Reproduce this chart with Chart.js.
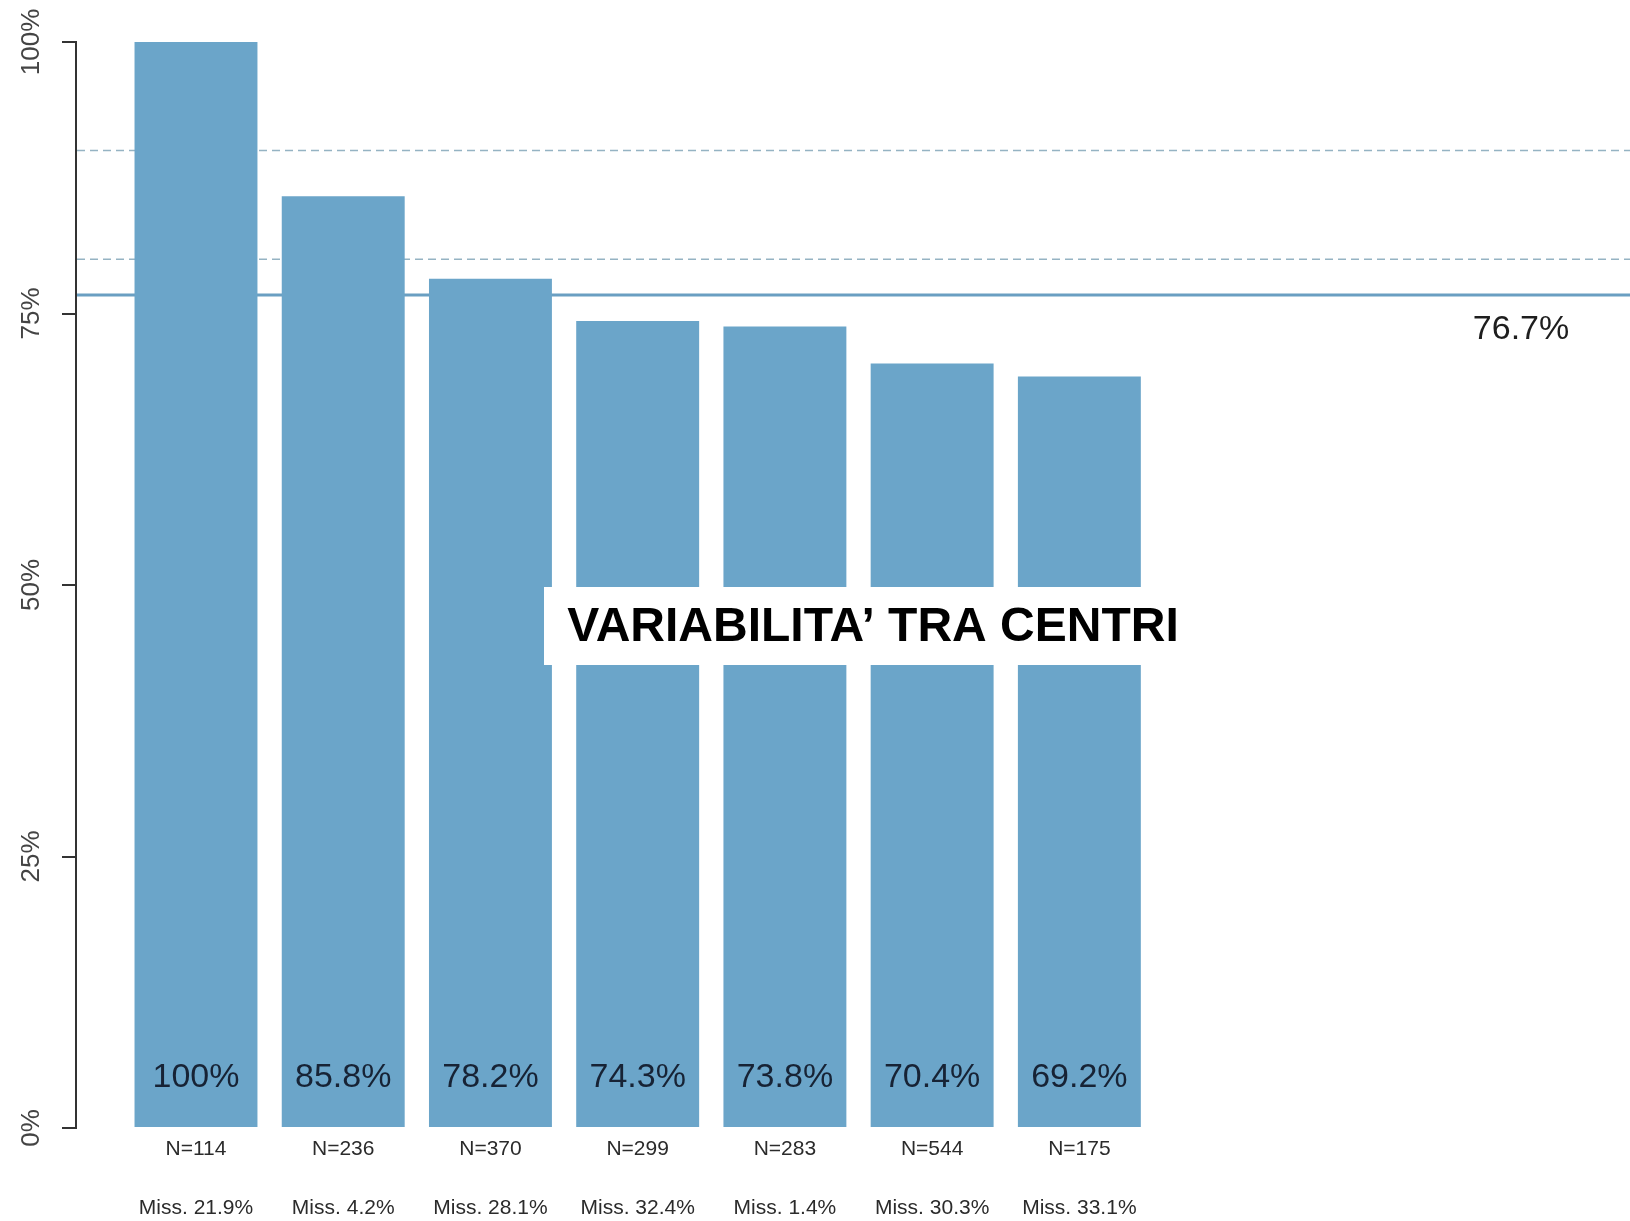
<!DOCTYPE html>
<html>
<head>
<meta charset="utf-8">
<script src="https://cdn.jsdelivr.net/npm/chart.js@4.4.1/dist/chart.umd.min.js"></script>
<style>
    html, body { margin: 0; padding: 0; background: #fff; overflow: hidden; }
    #wrap { width: 1630px; height: 1221px; position: relative; }
</style>
</head>
<body>
<div id="wrap"><canvas id="chart"></canvas></div>
<script>
// values
const pctValues = [100, 85.8, 78.2, 74.3, 73.8, 70.4, 69.2];
const sampleSizes = [114, 236, 370, 299, 283, 544, 175];
const missingPct = [21.9, 4.2, 28.1, 32.4, 1.4, 30.3, 33.1];
const meanPct = 76.7;
const refLines = [80, 90];
const yTicks = [0, 25, 50, 75, 100];
const yTickLabels = ["0%", "25%", "50%", "75%", "100%"];
const boxTitle = "VARIABILITA\u2019 TRA CENTRI";

const FONT = '"Liberation Sans", Arial, sans-serif';
const barColor = "#6ba5c9";
const positions = pctValues.map((v, i) => i + 1);

const overlay = {
    id: "overlay",
    beforeDatasetsDraw(chart) {
        const { ctx, chartArea, scales } = chart;
        const y = scales.y;
        ctx.save();
        ctx.strokeStyle = "#95b3c3";
        ctx.lineWidth = 1.5;
        ctx.setLineDash([8, 5]);
        refLines.forEach(v => {
            const py = y.getPixelForValue(v);
            ctx.beginPath();
            ctx.moveTo(chartArea.left + 1, py);
            ctx.lineTo(chartArea.right, py);
            ctx.stroke();
        });
        ctx.setLineDash([]);
        ctx.strokeStyle = "#6a9fc2";
        ctx.lineWidth = 3;
        const my = y.getPixelForValue(meanPct);
        ctx.beginPath();
        ctx.moveTo(chartArea.left + 1, my);
        ctx.lineTo(chartArea.right, my);
        ctx.stroke();
        ctx.restore();
    },
    afterDraw(chart) {
        const { ctx, scales } = chart;
        const x = scales.x;
        const y = scales.y;
        ctx.save();

        // rotated y tick labels
        ctx.fillStyle = "#444";
        ctx.font = "26px " + FONT;
        ctx.textAlign = "center";
        ctx.textBaseline = "middle";
        yTicks.forEach((v, i) => {
            ctx.save();
            ctx.translate(32, y.getPixelForValue(v));
            ctx.rotate(-Math.PI / 2);
            ctx.fillText(yTickLabels[i], 0, 0);
            ctx.restore();
        });

        // percentages at the foot of each bar
        const meta = chart.getDatasetMeta(0);
        ctx.fillStyle = "#172335";
        ctx.font = "34px " + FONT;
        meta.data.forEach((bar, i) => {
            ctx.fillText(pctValues[i] + "%", bar.x, y.getPixelForValue(0) - 50);
        });

        // mean label
        ctx.fillStyle = "#1e1e1e";
        ctx.font = "34px " + FONT;
        ctx.fillText(meanPct + "%", x.getPixelForValue(10), y.getPixelForValue(meanPct) + 35);

        // white title box over the bars
        ctx.fillStyle = "#fff";
        ctx.fillRect(544, 587, 641, 78);
        ctx.fillStyle = "#000";
        ctx.font = "bold 48px " + FONT;
        ctx.fillText(boxTitle, 873, 628);

        ctx.restore();
    }
};

new Chart(document.getElementById("chart"), {
    type: "bar",
    data: {
        datasets: [{
            data: pctValues.map((v, i) => ({ x: positions[i], y: v })),
            backgroundColor: barColor,
            borderWidth: 0,
            barPercentage: 0.835,
            categoryPercentage: 1
        }]
    },
    options: {
        responsive: true,
        maintainAspectRatio: false,
        animation: false,
        events: [],
        layout: { padding: { top: 42, right: 0, bottom: 0, left: 0 } },
        plugins: {
            legend: { display: false },
            tooltip: { enabled: false }
        },
        scales: {
            x: {
                type: "linear",
                offset: false,
                min: 0.185,
                max: 10.74,
                afterBuildTicks: s => { s.ticks = positions.map(v => ({ value: v })); },
                afterFit: s => { s.height = 93; },
                grid: { display: false, drawTicks: false },
                border: { display: false },
                ticks: {
                    autoSkip: false,
                    maxRotation: 0,
                    minRotation: 0,
                    padding: 6,
                    color: "#2b2b2b",
                    font: { family: FONT, size: 21, lineHeight: 1.405 },
                    callback: v => {
                        const i = positions.indexOf(v);
                        return i < 0 ? "" : ["N=" + sampleSizes[i], "", "Miss. " + missingPct[i] + "%"];
                    }
                }
            },
            y: {
                min: 0,
                max: 100,
                afterBuildTicks: s => { s.ticks = yTicks.map(v => ({ value: v })); },
                afterFit: s => { s.width = 76; },
                ticks: { display: false },
                grid: { drawOnChartArea: false, drawTicks: true, tickLength: 14, color: "#333", lineWidth: 2 },
                border: { display: true, color: "#333", width: 2 }
            }
        }
    },
    plugins: [overlay]
});
</script>
</body>
</html>
